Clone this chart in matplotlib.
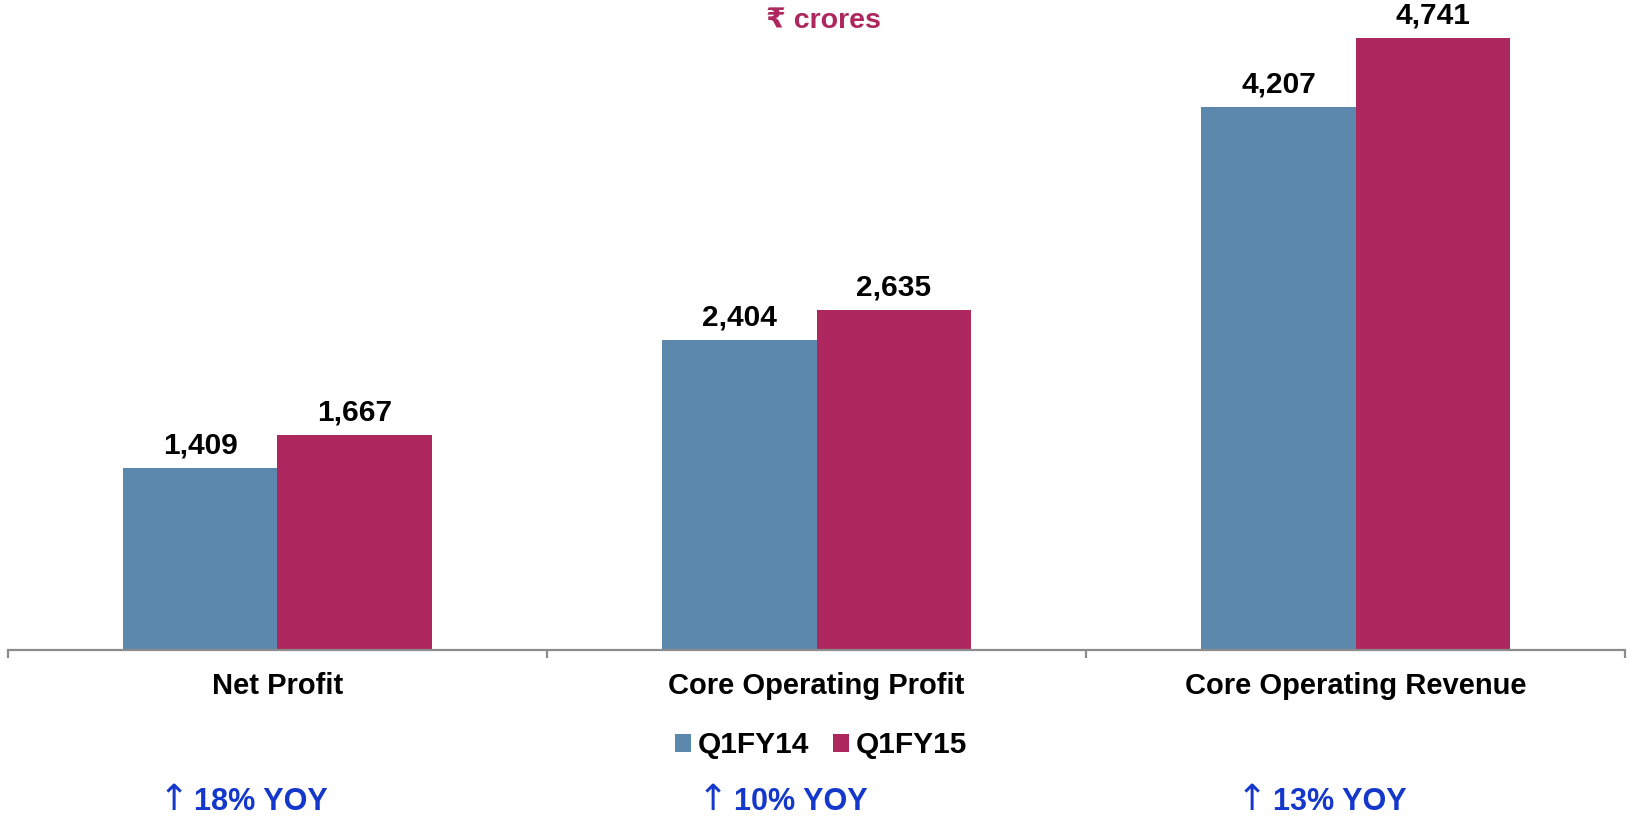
import matplotlib
matplotlib.use('Agg')
import matplotlib.pyplot as plt
import numpy as np

plt.rcParams['font.family'] = ['Liberation Sans', 'DejaVu Sans']

# data (Rs crores)
categories = ['Net Profit', 'Core Operating Profit', 'Core Operating Revenue']
q1fy14 = [1409, 2404, 4207]
q1fy15 = [1667, 2635, 4741]
growth = ['18%', '10%', '13%']
series_names = ['Q1FY14', 'Q1FY15']

BLUE = '#5B88AC'
RED = '#AE275E'
YOY_BLUE = '#1538CC'

fig = plt.figure(figsize=(16.27, 8.18), dpi=100)
ax = fig.add_axes([0.0049, 0.2054, 0.9939, 0.789])

x = np.arange(len(categories))
w = 0.286
b1 = ax.bar(x - w / 2, q1fy14, width=w, color=BLUE, label=series_names[0])
b2 = ax.bar(x + w / 2, q1fy15, width=w, color=RED, label=series_names[1])

# value labels above each bar
for bars, vals in ((b1, q1fy14), (b2, q1fy15)):
    for rect, v in zip(bars, vals):
        ax.annotate(f'{v:,}', (rect.get_x() + rect.get_width() / 2, v),
                    xytext=(0, 10.5), textcoords='offset points',
                    ha='center', va='baseline', fontsize=21.5, fontweight='bold')

ax.set_xlim(-0.5, len(categories) - 0.5)
ax.set_ylim(0, 5000)

for s in ('top', 'right', 'left'):
    ax.spines[s].set_visible(False)
ax.spines['bottom'].set_color('#8C8C8C')
ax.spines['bottom'].set_linewidth(1.6)
ax.set_yticks([])

# boundary ticks between groups, labels sit at centres (no tick marks there)
ax.set_xticks(np.arange(-0.5, len(categories), 1.0))
ax.set_xticklabels([])
ax.tick_params(axis='x', which='major', length=6, width=1.6, color='#8C8C8C')
ax.set_xticks(x, minor=True)
ax.set_xticklabels(categories, minor=True, fontsize=21, fontweight='bold')
ax.tick_params(axis='x', which='minor', length=0, pad=16)

fig.text(0.506, 0.974, '\u20b9 crores', ha='center', va='center',
         fontsize=20.5, fontweight='bold', color=RED)

fig.legend(loc='center', bbox_to_anchor=(0.5045, 0.089), ncol=2, frameon=False,
           prop={'weight': 'bold', 'size': 21.5},
           handlelength=0.55, handleheight=0.55, handletextpad=0.22,
           columnspacing=0.8)

# YOY growth notes under each group: thin tall arrow + bold text
yoy_y = -(802 - 650) / (818 * 0.789)
for i, g in enumerate(growth):
    ax.text(i - 0.03, yoy_y, f'{g} YOY', transform=ax.get_xaxis_transform(),
            ha='center', va='center', fontsize=22, fontweight='bold',
            color=YOY_BLUE)
    ax.text(i - 0.193, yoy_y + 0.003, '\u2191', transform=ax.get_xaxis_transform(),
            ha='center', va='center', fontsize=26, color=YOY_BLUE,
            family='DejaVu Sans')

fig.savefig('out.png', dpi=100)
